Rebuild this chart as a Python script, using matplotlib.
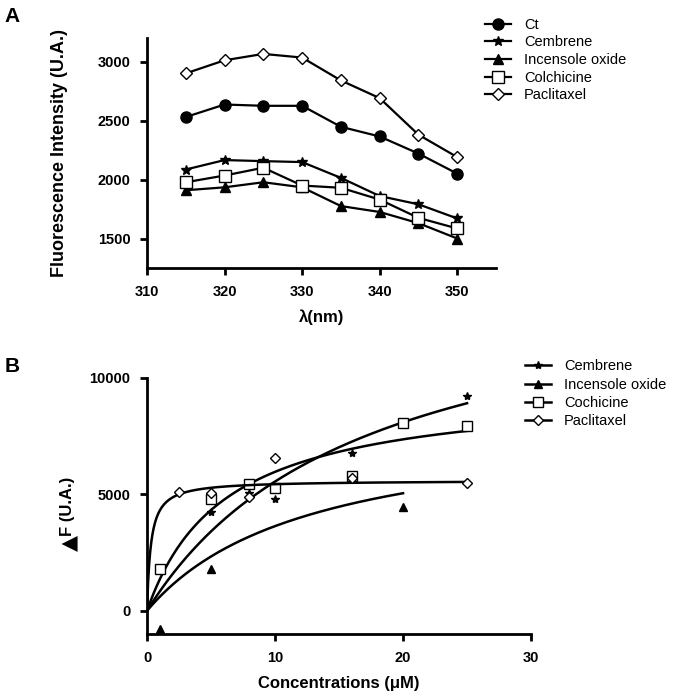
import numpy as np
import matplotlib
matplotlib.use('Agg')
import matplotlib.pyplot as plt

plt.rcParams['font.family'] = ['Liberation Sans', 'DejaVu Sans']
plt.rcParams['font.weight'] = 'bold'

# Panel A : emission spectra
wl = [315, 320, 325, 330, 335, 340, 345, 350]
ct = [2530, 2636, 2625, 2625, 2447, 2365, 2220, 2050]
cembrene = [2085, 2165, 2156, 2148, 2014, 1860, 1790, 1670]
incensole = [1909, 1934, 1977, 1934, 1775, 1725, 1630, 1500]
colchicine = [1977, 2034, 2100, 1949, 1930, 1830, 1675, 1585]
paclitaxel = [2900, 3011, 3065, 3034, 2840, 2690, 2380, 2190]

# Panel B : binding points
cem_x = [5, 8, 10, 16, 25]
cem_y = [4262, 5050, 4794, 6768, 9240]
inc_x = [1, 5, 20]
inc_y = [-773, 1790, 4450]
coc_x = [1, 5, 8, 10, 16, 20, 25]
coc_y = [1790, 4794, 5438, 5293, 5808, 8082, 7953]
pac_x = [2.5, 5, 8, 10, 16, 25]
pac_y = [5121, 5050, 4906, 6554, 5695, 5480]

# one-site binding fits (Bmax, Kd, xmax)
cem_fit = (14960, 16.95, 25)
inc_fit = (8262, 12.73, 20)
coc_fit = (9613, 6.11, 25)
pac_fit = (5600, 0.3, 25)

fig = plt.figure(figsize=(6.87, 6.97), dpi=100)
axA = fig.add_axes([0.214, 0.6155, 0.508, 0.33])
axB = fig.add_axes([0.214, 0.0904, 0.559, 0.3673])

def style(ax):
    for s in ['top', 'right']:
        ax.spines[s].set_visible(False)
    for s in ['left', 'bottom']:
        ax.spines[s].set_linewidth(2)
    ax.tick_params(width=2, length=5, labelsize=10.5, pad=7)
    for lab in ax.get_xticklabels() + ax.get_yticklabels():
        lab.set_fontweight('bold')

lw = 1.6
axA.plot(wl, ct, '-o', color='black', lw=lw, ms=8, label='Ct')
axA.plot(wl, cembrene, '-*', color='black', lw=lw, ms=7, label='Cembrene')
axA.plot(wl, incensole, '-^', color='black', lw=lw, ms=7, label='Incensole oxide')
axA.plot(wl, colchicine, '-s', color='black', mfc='white', lw=lw, ms=8, label='Colchicine')
axA.plot(wl, paclitaxel, '-D', color='black', mfc='white', lw=lw, ms=6, label='Paclitaxel')
axA.set_xlim(310, 355)
axA.set_ylim(1250, 3200)
axA.set_xticks([310, 320, 330, 340, 350])
axA.set_yticks([1500, 2000, 2500, 3000])
style(axA)
axA.set_ylabel('Fluorescence Intensity (U.A.)', fontsize=13, fontweight='bold')
axA.yaxis.set_label_coords(-0.226, 0.5)
axA.set_xlabel('λ(nm)', fontsize=12, fontweight='bold', labelpad=8)
axA.legend(loc='upper left', bbox_to_anchor=(0.695, 0.985), bbox_transform=fig.transFigure,
           frameon=False, handlelength=1.8, borderpad=0, labelspacing=0.25,
           handletextpad=0.9, prop={'size': 10.5, 'weight': 'normal'})

def fit_curve(p):
    b, k, xm = p
    xs = np.linspace(0, xm, 300)
    return xs, b * xs / (k + xs)

for (px, py, p, m, mfc, ms, lab) in [
        (cem_x, cem_y, cem_fit, '*', 'black', 6, 'Cembrene'),
        (inc_x, inc_y, inc_fit, '^', 'black', 6, 'Incensole oxide'),
        (coc_x, coc_y, coc_fit, 's', 'white', 7, 'Cochicine'),
        (pac_x, pac_y, pac_fit, 'D', 'white', 5, 'Paclitaxel')]:
    xs, ys = fit_curve(p)
    axB.plot(xs, ys, color='black', lw=1.8)
    axB.plot(px, py, ls='none', marker=m, mfc=mfc, mec='black', ms=ms, clip_on=False)
    axB.plot([], [], '-', marker=m, mfc=mfc, mec='black', color='black', lw=1.8, ms=ms, label=lab)

axB.set_xlim(0, 30)
axB.set_ylim(-1000, 10000)
axB.set_xticks([0, 10, 20, 30])
axB.set_yticks([0, 5000, 10000])
style(axB)
axB.set_ylabel('F (U.A.)', fontsize=12, fontweight='bold')
axB.yaxis.set_label_coords(-0.1875, 0.5)
axB.text(-0.2, 0.355, '▲', transform=axB.transAxes, fontsize=15, rotation=90,
         ha='center', va='center', family='DejaVu Sans')
axB.set_xlabel('Concentrations (μM)', fontsize=12, fontweight='bold', labelpad=8)
axB.legend(loc='upper left', bbox_to_anchor=(0.753, 0.495), bbox_transform=fig.transFigure,
           frameon=False, handlelength=1.8, borderpad=0, labelspacing=0.3,
           handletextpad=0.9, prop={'size': 10.5, 'weight': 'normal'})

fig.text(0.007, 0.968, 'A', fontsize=15, fontweight='bold')
fig.text(0.007, 0.466, 'B', fontsize=15, fontweight='bold')

fig.savefig('out.png', dpi=100)
